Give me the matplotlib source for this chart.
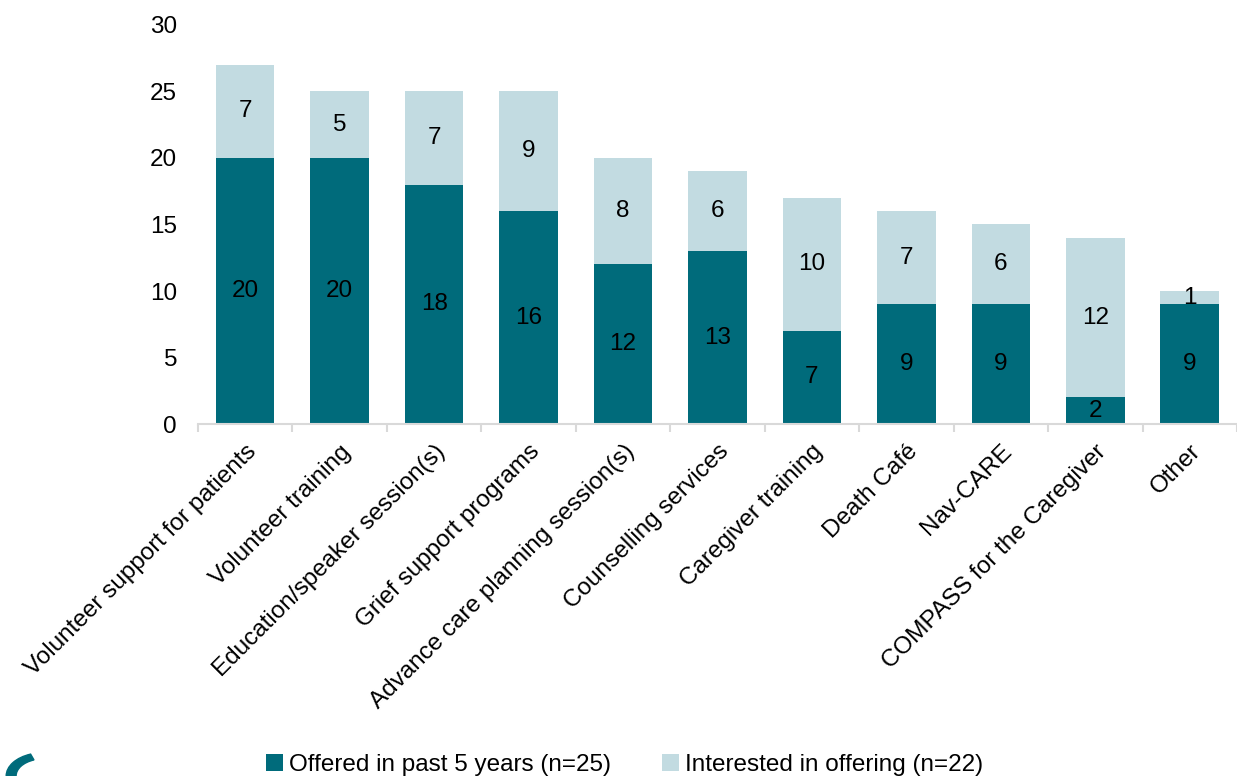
import numpy as np
import matplotlib.pyplot as plt
from matplotlib.patches import Wedge

plt.rcParams['font.family'] = ['Liberation Sans', 'DejaVu Sans']

# data
categories = ["Volunteer support for patients", "Volunteer training",
              "Education/speaker session(s)", "Grief support programs",
              "Advance care planning session(s)", "Counselling services",
              "Caregiver training", "Death Café", "Nav-CARE",
              "COMPASS for the Caregiver", "Other"]
offered = [20, 20, 18, 16, 12, 13, 7, 9, 9, 2, 9]
interested = [7, 5, 7, 9, 8, 6, 10, 7, 6, 12, 1]

DARK = '#006B7B'
LIGHT = '#C2DBE1'
FS = 17.5

fig = plt.figure(figsize=(12.37, 7.76), dpi=100)
ax = fig.add_axes([0.160, 0.4536, 0.840, 0.5142])

x = np.arange(len(categories))
w = 0.62
b1 = ax.bar(x, offered, w, color=DARK, label='Offered in past 5 years (n=25)')
b2 = ax.bar(x, interested, w, bottom=offered, color=LIGHT,
            label='Interested in offering (n=22)')

# value labels in the middle of each segment
for i in range(len(x)):
    ax.text(x[i], offered[i] / 2, str(offered[i]), ha='center', va='center',
            fontsize=FS, color='black')
    ax.text(x[i], offered[i] + interested[i] / 2, str(interested[i]),
            ha='center', va='center', fontsize=FS, color='black')

ax.set_xlim(-0.5, len(x) - 0.5)
ax.set_ylim(0, 30)
ax.set_yticks([0, 5, 10, 15, 20, 25, 30])
ax.tick_params(axis='y', length=0, labelsize=FS, pad=15)

ax.set_xticks(x)
ax.set_xticklabels(categories, rotation=45, ha='right', rotation_mode='anchor',
                   fontsize=FS)
ax.tick_params(axis='x', length=0, pad=12)
# tick marks between categories
ax.set_xticks(np.arange(-0.5, len(x) + 0.5, 1), minor=True)
ax.tick_params(axis='x', which='minor', length=6, color='#D9D9D9', width=1.5)

for s in ['top', 'right', 'left']:
    ax.spines[s].set_visible(False)
ax.spines['bottom'].set_color('#D9D9D9')
ax.spines['bottom'].set_linewidth(1.5)

fig.legend(handles=[b1, b2], loc='center', bbox_to_anchor=(0.505, 0.014),
           ncol=2, frameon=False, fontsize=FS, handlelength=0.7,
           handleheight=0.7, handletextpad=0.25, columnspacing=2.1)

# cut-off logo fragment at the bottom left corner
fig.patches.append(Wedge((0.035, 0.0), 0.03, 110, 180, width=0.008,
                         color=DARK, transform=fig.transFigure))

fig.savefig('out.png', dpi=100)
